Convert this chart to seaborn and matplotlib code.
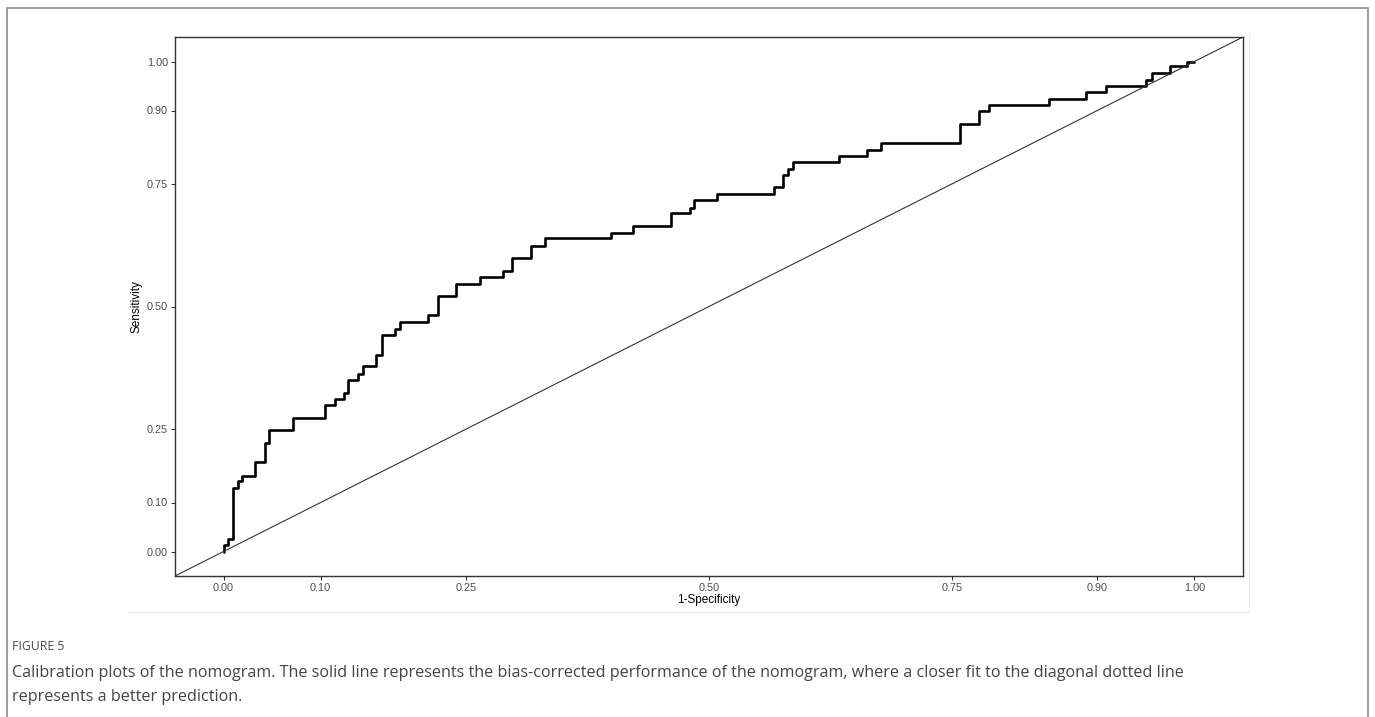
import numpy as np
import pandas as pd
import matplotlib
matplotlib.use("Agg")
import matplotlib.pyplot as plt
from matplotlib.lines import Line2D
from matplotlib.patches import Rectangle
import seaborn as sns

# step curve corners (1-specificity, sensitivity)
fpr = [0.0, 0.0, 0.0041, 0.0093, 0.0144, 0.0185, 0.0329, 0.0432, 0.0473, 0.0720,
       0.1049, 0.1152, 0.1245, 0.1286, 0.1389, 0.1440, 0.1574, 0.1636, 0.1770,
       0.1821, 0.2109, 0.2212, 0.2397, 0.2644, 0.2881, 0.2973, 0.3169, 0.3313,
       0.3992, 0.4218, 0.4609, 0.4805, 0.4846, 0.5082, 0.5669, 0.5761, 0.5813,
       0.5864, 0.6337, 0.6626, 0.6770, 0.7582, 0.7778, 0.7881, 0.8498, 0.8879,
       0.9084, 0.9506, 0.9558, 0.9753, 0.9928, 1.0]
tpr = [0.0, 0.014, 0.025, 0.129, 0.144, 0.154, 0.183, 0.222, 0.248, 0.273,
       0.298, 0.312, 0.324, 0.351, 0.363, 0.378, 0.402, 0.441, 0.454,
       0.468, 0.483, 0.522, 0.546, 0.561, 0.573, 0.600, 0.624, 0.639,
       0.651, 0.665, 0.690, 0.702, 0.717, 0.729, 0.743, 0.768, 0.780,
       0.795, 0.807, 0.819, 0.834, 0.873, 0.899, 0.912, 0.924, 0.938,
       0.951, 0.963, 0.977, 0.990, 1.0, 1.0]

tick_vals = [0.0, 0.10, 0.25, 0.50, 0.75, 0.90, 1.00]
tick_labels = ["0.00", "0.10", "0.25", "0.50", "0.75", "0.90", "1.00"]
axis_lim = (-0.05, 1.05)

caption_title = "FIGURE 5"
caption_lines = [
    "Calibration plots of the nomogram. The solid line represents the bias-corrected performance of the nomogram, where a closer fit to the diagonal dotted line",
    "represents a better prediction.",
]

sns.set_theme(style="white")
plt.rcParams["font.family"] = ["Liberation Sans", "DejaVu Sans"]

fig = plt.figure(figsize=(13.75, 7.17), dpi=100)
ax = fig.add_axes([175 / 1375, 1 - 576 / 717, (1243 - 175) / 1375, (576 - 37) / 717])

df = pd.DataFrame({"fpr": fpr, "tpr": tpr})
sns.lineplot(data=df, x="fpr", y="tpr", ax=ax, sort=False, estimator=None,
             drawstyle="steps-post", color="black", linewidth=1.9)
ax.axline((0, 0), slope=1, color="#333333", linewidth=0.8)

ax.set_xlim(*axis_lim)
ax.set_ylim(*axis_lim)
ax.set_xticks(tick_vals)
ax.set_xticklabels(tick_labels)
ax.set_yticks(tick_vals)
ax.set_yticklabels(tick_labels)
ax.tick_params(axis="both", length=3, width=0.8, color="#333333",
               labelsize=7.8, labelcolor="#4d4d4d", pad=2, direction="out",
               bottom=True, left=True)
for side in ["top", "right", "bottom", "left"]:
    ax.spines[side].set_visible(True)
    ax.spines[side].set_color("#333333")
    ax.spines[side].set_linewidth(1.0)
ax.set_xlabel("1-Specificity", fontsize=8.5, color="black", labelpad=1)
ax.set_ylabel("Sensitivity", fontsize=8.5, color="black", labelpad=3)

# faint edges of the embedded image and the outer page frame
fig.add_artist(Line2D([128 / 1375, 1249 / 1375], [1 - 612 / 717, 1 - 612 / 717],
                      transform=fig.transFigure, color="#e6e6e6", linewidth=0.8))
fig.add_artist(Line2D([1249 / 1375, 1249 / 1375], [1 - 33 / 717, 1 - 612 / 717],
                      transform=fig.transFigure, color="#ececec", linewidth=0.8))
fig.add_artist(Rectangle((7 / 1375, -0.05), (1368 - 7) / 1375, 1.05 - 8 / 717,
                         transform=fig.transFigure, fill=False,
                         edgecolor="#8c8c8c", linewidth=1.2))

fig.text(12 / 1375, 1 - 646 / 717, caption_title, fontsize=8.8, color="#4a4a4a",
         va="center", ha="left", family=["Open Sans", "DejaVu Sans"])
fig.text(12 / 1375, 1 - 673 / 717, caption_lines[0], fontsize=11.6, color="#444444",
         va="center", ha="left", family=["Open Sans", "DejaVu Sans"])
fig.text(12 / 1375, 1 - 697 / 717, caption_lines[1], fontsize=11.6, color="#444444",
         va="center", ha="left", family=["Open Sans", "DejaVu Sans"])

fig.savefig("out.png", dpi=100)
